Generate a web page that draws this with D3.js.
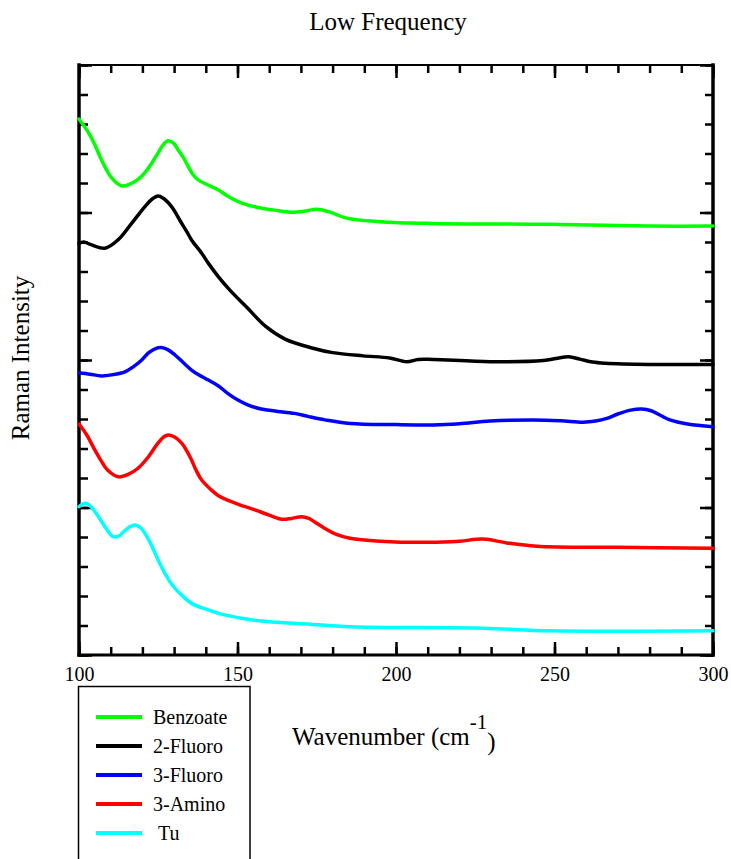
<!DOCTYPE html>
<html>
<head>
<meta charset="utf-8">
<script src="https://cdn.jsdelivr.net/npm/d3@7"></script>
<style>
  html, body { margin: 0; padding: 0; background: #fff; }
  svg { display: block; }
  text { font-family: "Liberation Serif", "Times New Roman", serif; fill: #000; }
</style>
</head>
<body>
<svg id="chart" width="731" height="859"></svg>
<script>
// ---- Data ----
const seriesNames = ["Benzoate", "2-Fluoro", "3-Fluoro", "3-Amino", "Tu"];
const seriesColors = ["#00ff00", "#000000", "#0000ff", "#ff0000", "#00ffff"];

const benzoateX = [100, 102.8, 105, 107.1, 110.3, 113.5, 116, 118.6, 121, 123, 125, 126.5, 128, 129.8, 131.3, 133, 134.5, 136, 137.7, 140.8, 144, 147.5, 151.4, 156, 161.8, 167.5, 171, 175, 179, 184.4, 195, 210.7, 248.6, 280, 300];
const benzoateY = [18.17, 17.74, 17.30, 16.78, 16.17, 15.90, 15.96, 16.12, 16.38, 16.68, 17.03, 17.28, 17.43, 17.35, 17.12, 16.85, 16.55, 16.28, 16.10, 15.93, 15.76, 15.52, 15.32, 15.18, 15.08, 15.01, 15.04, 15.11, 15.02, 14.81, 14.69, 14.63, 14.60, 14.54, 14.54];

const fluoro2X = [100, 101.5, 104, 108.2, 112.3, 116.6, 120.8, 123, 125, 127, 129.2, 130.8, 132.4, 134, 135.5, 138.7, 141, 144, 147.6, 153, 159, 165, 173.8, 180, 189.6, 198, 203.4, 207, 211.7, 229.7, 246.5, 250.5, 254.5, 258, 262, 266, 280, 300];
const fluoro2Y = [13.95, 14.0, 13.90, 13.79, 14.07, 14.63, 15.20, 15.45, 15.56, 15.45, 15.20, 14.93, 14.63, 14.35, 14.07, 13.62, 13.25, 12.82, 12.37, 11.78, 11.13, 10.71, 10.40, 10.25, 10.14, 10.07, 9.94, 10.02, 10.02, 9.94, 9.98, 10.05, 10.11, 10.03, 9.93, 9.89, 9.85, 9.85];

const fluoro3X = [100, 103.5, 107.1, 110.5, 114.5, 117, 119.8, 122, 124, 125.9, 128, 130.3, 133, 135.5, 138, 140.8, 144, 147, 150, 153.4, 157.5, 161.8, 168, 172.5, 177.6, 185.5, 200, 211.8, 220, 229.7, 243.3, 252, 259, 263, 266.5, 270, 274, 277.5, 280.5, 283.5, 286.4, 292, 300];
const fluoro3Y = [9.57, 9.52, 9.46, 9.50, 9.60, 9.76, 10.0, 10.25, 10.38, 10.42, 10.35, 10.17, 9.90, 9.66, 9.48, 9.32, 9.12, 8.86, 8.65, 8.47, 8.34, 8.27, 8.19, 8.08, 7.97, 7.85, 7.81, 7.80, 7.84, 7.93, 7.97, 7.94, 7.89, 7.93, 8.02, 8.17, 8.30, 8.34, 8.28, 8.12, 7.97, 7.83, 7.74];

const amino3X = [100, 102.5, 105, 107, 109, 112.4, 115.5, 118.6, 121.9, 124.9, 126.8, 128.2, 130.3, 132.4, 134, 135.5, 137, 138.7, 141.9, 144, 146, 150.5, 155.5, 160, 164, 167, 170.2, 172.5, 174.5, 177.6, 181, 185.5, 195, 210.7, 220, 227.5, 235, 244.4, 269.6, 300];
const amino3Y = [7.83, 7.45, 6.95, 6.58, 6.27, 6.04, 6.12, 6.33, 6.72, 7.18, 7.40, 7.46, 7.38, 7.18, 6.92, 6.61, 6.25, 5.93, 5.58, 5.40, 5.29, 5.10, 4.92, 4.74, 4.60, 4.63, 4.69, 4.63, 4.50, 4.29, 4.10, 3.96, 3.86, 3.82, 3.86, 3.93, 3.80, 3.69, 3.65, 3.62];

const tuX = [100, 101.3, 102.4, 104, 106, 108.5, 110.8, 112.5, 114, 116, 117.7, 119.3, 120.8, 122.4, 124, 125.5, 127.1, 128.7, 130.3, 132.5, 135.5, 140.8, 146, 156.6, 172.2, 185.5, 227.5, 248.6, 300];
const tuY = [5.03, 5.12, 5.14, 5.00, 4.71, 4.30, 4.01, 4.03, 4.17, 4.35, 4.41, 4.33, 4.13, 3.82, 3.45, 3.10, 2.77, 2.48, 2.26, 2.02, 1.75, 1.53, 1.36, 1.16, 1.05, 0.96, 0.91, 0.82, 0.82];

const xMinorTicks = d3.range(100, 301, 10);
const xMajorTicks = [100, 150, 200, 250, 300];
const yMinorTicks = d3.range(0, 21, 1);
const yMajorTicks = [0, 5, 10, 15, 20];

const titleText = "Low Frequency";
const yLabelText = "Raman Intensity";

// ---- Build series table ----
const allX = [benzoateX, fluoro2X, fluoro3X, amino3X, tuX];
const allY = [benzoateY, fluoro2Y, fluoro3Y, amino3Y, tuY];
const series = seriesNames.map((name, i) => ({
  name, color: seriesColors[i],
  points: allX[i].map((x, j) => ({ x, y: allY[i][j] }))
}));

// ---- Layout ----
const svg = d3.select("#chart");
const L = 79, R = 713, T = 65, B = 655;

const x = d3.scaleLinear().domain([100, 300]).range([L, R]);
const y = d3.scaleLinear().domain([0, 20]).range([B, T]);

// Title
svg.append("text").attr("x", 388).attr("y", 30).attr("text-anchor", "middle")
  .style("font-size", "25px").text(titleText);

// Y label
svg.append("text").attr("transform", "translate(29,358) rotate(-90)")
  .attr("text-anchor", "middle").style("font-size", "25px").text(yLabelText);

// X label with superscript
const xl = svg.append("text").attr("x", 292).attr("y", 745).style("font-size", "25px");
xl.append("tspan").text("Wavenumber (cm");
xl.append("tspan").attr("dy", -16).style("font-size", "21px").text("-1");
xl.append("tspan").attr("dy", 21).text(")");

// Axes ticks
function styleAxis(g) {
  g.select(".domain").remove();
  g.selectAll(".tick line").attr("stroke", "#000").attr("stroke-width", 2.5);
  g.selectAll(".tick text").style("font-family", '"Liberation Serif", "Times New Roman", serif')
    .style("font-size", "20px").attr("fill", "#000");
}

// bottom minor
svg.append("g").attr("transform", `translate(0,${B})`)
  .call(d3.axisBottom(x).tickValues(xMinorTicks).tickSize(-8).tickFormat(""))
  .call(styleAxis);
// bottom major with labels
svg.append("g").attr("transform", `translate(0,${B})`)
  .call(d3.axisBottom(x).tickValues(xMajorTicks).tickSize(-13).tickPadding(12).tickFormat(d3.format("d")))
  .call(styleAxis);
// top
svg.append("g").attr("transform", `translate(0,${T})`)
  .call(d3.axisTop(x).tickValues(xMinorTicks).tickSize(-8).tickFormat(""))
  .call(styleAxis);
svg.append("g").attr("transform", `translate(0,${T})`)
  .call(d3.axisTop(x).tickValues(xMajorTicks).tickSize(-13).tickFormat(""))
  .call(styleAxis);
// left
svg.append("g").attr("transform", `translate(${L},0)`)
  .call(d3.axisLeft(y).tickValues(yMinorTicks).tickSize(-9).tickFormat(""))
  .call(styleAxis);
svg.append("g").attr("transform", `translate(${L},0)`)
  .call(d3.axisLeft(y).tickValues(yMajorTicks).tickSize(-13).tickFormat(""))
  .call(styleAxis);
// right
svg.append("g").attr("transform", `translate(${R},0)`)
  .call(d3.axisRight(y).tickValues(yMinorTicks).tickSize(-8).tickFormat(""))
  .call(styleAxis);
svg.append("g").attr("transform", `translate(${R},0)`)
  .call(d3.axisRight(y).tickValues(yMajorTicks).tickSize(-13).tickFormat(""))
  .call(styleAxis);

// Frame
const frame = svg.append("g").attr("stroke", "#000").attr("stroke-linecap", "square");
frame.append("line").attr("x1", L).attr("x2", R).attr("y1", T).attr("y2", T).attr("stroke-width", 2);
frame.append("line").attr("x1", L).attr("x2", R).attr("y1", B).attr("y2", B).attr("stroke-width", 3);
frame.append("line").attr("x1", L).attr("x2", L).attr("y1", T).attr("y2", B).attr("stroke-width", 3.5);
frame.append("line").attr("x1", R).attr("x2", R).attr("y1", T).attr("y2", B).attr("stroke-width", 3.5);

// Lines
const line = d3.line().x(d => x(d.x)).y(d => y(d.y)).curve(d3.curveCatmullRom.alpha(0.5));
svg.append("g").selectAll("path").data(series).join("path")
  .attr("d", d => line(d.points))
  .attr("fill", "none")
  .attr("stroke", d => d.color)
  .attr("stroke-width", 3.5)
  .attr("stroke-linejoin", "round")
  .attr("stroke-linecap", "round");

// Legend
const lg = svg.append("g");
lg.append("rect").attr("x", 78.5).attr("y", 686.5).attr("width", 171.5).attr("height", 200)
  .attr("fill", "none").attr("stroke", "#000").attr("stroke-width", 1.5);
const rows = lg.selectAll("g.row").data(series).join("g").attr("class", "row")
  .attr("transform", (d, i) => `translate(0,${717 + i * 29})`);
rows.append("line").attr("x1", 96).attr("x2", 142).attr("y1", 0).attr("y2", 0)
  .attr("stroke", d => d.color).attr("stroke-width", 4);
rows.append("text").attr("x", d => d.name === "Tu" ? 158 : 153).attr("y", 7)
  .style("font-size", "20px").text(d => d.name);
</script>
</body>
</html>
